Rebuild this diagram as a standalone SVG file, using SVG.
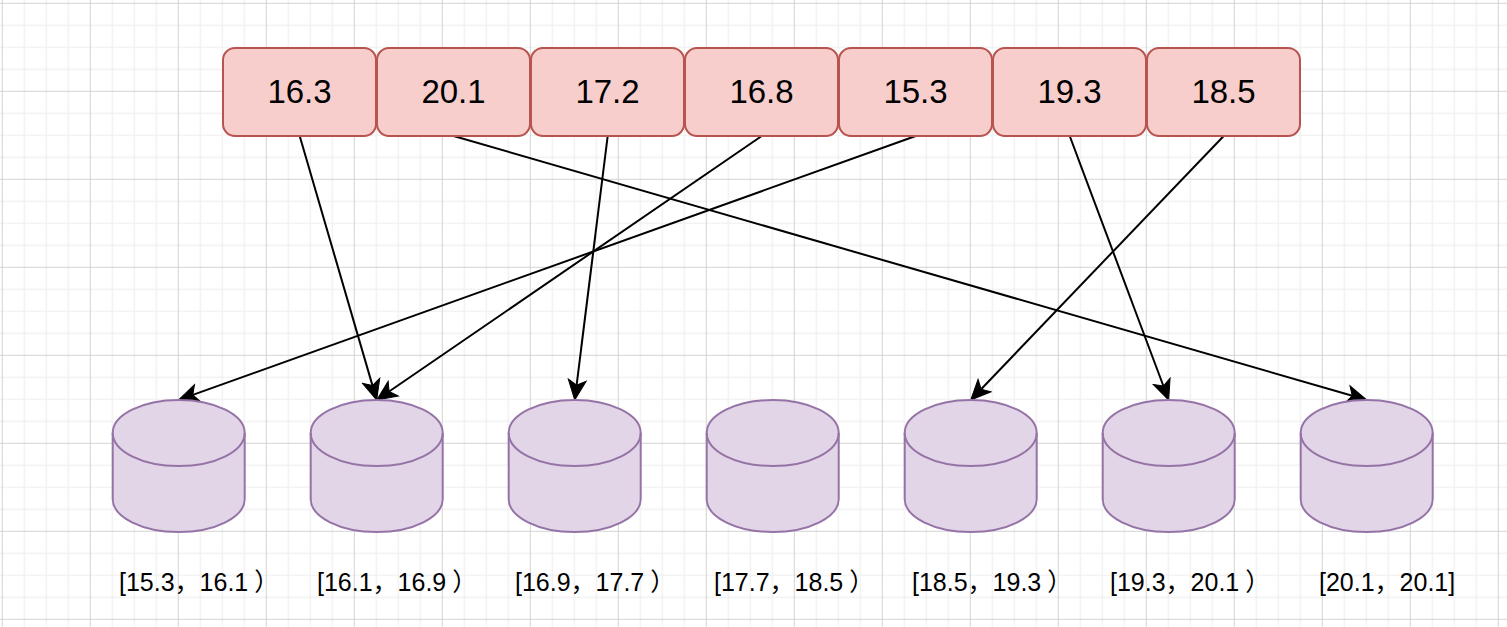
<svg xmlns="http://www.w3.org/2000/svg" width="1507" height="627" viewBox="0 0 1507 627">
<defs>
<pattern id="grid" patternUnits="userSpaceOnUse" x="1.8" y="2.8" width="88" height="88">
<path d="M22.5 0V88M44.5 0V88M66.5 0V88M0 22.5H88M0 44.5H88M0 66.5H88" stroke="#f1f1f1" stroke-width="1.5" fill="none"/>
<path d="M0.5 0V88M0 0.5H88" stroke="#d3d3d3" stroke-width="1" fill="none"/>
</pattern>
<marker id="arrow" markerUnits="userSpaceOnUse" viewBox="-6 -11 23 22" refX="0" refY="0" markerWidth="23" markerHeight="22" orient="auto">
<path d="M15,0 L-5,-9 L0,0 L-5,9 Z" fill="#000" stroke="#000" stroke-width="1"/>
</marker>
</defs>
<style>
.box{fill:#f8cecc;stroke:#b85450;stroke-width:2}
.boxtext{font-family:"Liberation Sans",Arial,sans-serif;font-size:33px;fill:#000;text-anchor:middle}
.cyl{fill:#e1d5e7;stroke:#9673a6;stroke-width:2}
.cylline{fill:none;stroke:#9673a6;stroke-width:2}
.label{font-family:"Liberation Sans","Noto Sans CJK SC",sans-serif;font-size:25px;fill:#000}
.edge{fill:none;stroke:#000;stroke-width:2;marker-end:url(#arrow)}
</style>
<rect width="1507" height="627" fill="#ffffff"/>
<rect width="1507" height="627" fill="url(#grid)"/>

<g id="connectors">
<line class="edge" x1="299.7" y1="136" x2="372.5" y2="385.6"/>
<line class="edge" x1="453.7" y1="136" x2="1352.3" y2="395.8"/>
<line class="edge" x1="607.7" y1="136" x2="576.6" y2="385.1"/>
<line class="edge" x1="761.7" y1="136" x2="389.1" y2="391.5"/>
<line class="edge" x1="915.7" y1="136" x2="192.8" y2="394.9"/>
<line class="edge" x1="1069.7" y1="136" x2="1163.4" y2="386.0"/>
<line class="edge" x1="1223.7" y1="136" x2="981.1" y2="389.2"/>
</g>

<g id="box1"><rect class="box" x="223" y="48" width="153" height="88" rx="12"/><text class="boxtext" x="299.5" y="103">16.3</text></g>
<g id="box2"><rect class="box" x="377" y="48" width="153" height="88" rx="12"/><text class="boxtext" x="453.5" y="103">20.1</text></g>
<g id="box3"><rect class="box" x="531" y="48" width="153" height="88" rx="12"/><text class="boxtext" x="607.5" y="103">17.2</text></g>
<g id="box4"><rect class="box" x="685" y="48" width="153" height="88" rx="12"/><text class="boxtext" x="761.5" y="103">16.8</text></g>
<g id="box5"><rect class="box" x="839" y="48" width="153" height="88" rx="12"/><text class="boxtext" x="915.5" y="103">15.3</text></g>
<g id="box6"><rect class="box" x="993" y="48" width="153" height="88" rx="12"/><text class="boxtext" x="1069.5" y="103">19.3</text></g>
<g id="box7"><rect class="box" x="1147" y="48" width="153" height="88" rx="12"/><text class="boxtext" x="1223.5" y="103">18.5</text></g>

<g id="bucket1">
<path class="cyl" d="M112.7,433 A66,33 0 0 1 244.7,433 V499 A66,33 0 0 1 112.7,499 Z"/>
<path class="cylline" d="M112.7,433 A66,33 0 0 0 244.7,433"/>
<text class="label" x="119" y="591">[15.3，16.1<tspan dx="6">）</tspan></text>
</g>
<g id="bucket2">
<path class="cyl" d="M310.7,433 A66,33 0 0 1 442.7,433 V499 A66,33 0 0 1 310.7,499 Z"/>
<path class="cylline" d="M310.7,433 A66,33 0 0 0 442.7,433"/>
<text class="label" x="317" y="591">[16.1，16.9<tspan dx="6">）</tspan></text>
</g>
<g id="bucket3">
<path class="cyl" d="M508.7,433 A66,33 0 0 1 640.7,433 V499 A66,33 0 0 1 508.7,499 Z"/>
<path class="cylline" d="M508.7,433 A66,33 0 0 0 640.7,433"/>
<text class="label" x="515" y="591">[16.9，17.7<tspan dx="6">）</tspan></text>
</g>
<g id="bucket4">
<path class="cyl" d="M706.7,433 A66,33 0 0 1 838.7,433 V499 A66,33 0 0 1 706.7,499 Z"/>
<path class="cylline" d="M706.7,433 A66,33 0 0 0 838.7,433"/>
<text class="label" x="714" y="591">[17.7，18.5<tspan dx="6">）</tspan></text>
</g>
<g id="bucket5">
<path class="cyl" d="M904.7,433 A66,33 0 0 1 1036.7,433 V499 A66,33 0 0 1 904.7,499 Z"/>
<path class="cylline" d="M904.7,433 A66,33 0 0 0 1036.7,433"/>
<text class="label" x="912" y="591">[18.5，19.3<tspan dx="6">）</tspan></text>
</g>
<g id="bucket6">
<path class="cyl" d="M1102.7,433 A66,33 0 0 1 1234.7,433 V499 A66,33 0 0 1 1102.7,499 Z"/>
<path class="cylline" d="M1102.7,433 A66,33 0 0 0 1234.7,433"/>
<text class="label" x="1110" y="591">[19.3，20.1<tspan dx="6">）</tspan></text>
</g>
<g id="bucket7">
<path class="cyl" d="M1300.7,433 A66,33 0 0 1 1432.7,433 V499 A66,33 0 0 1 1300.7,499 Z"/>
<path class="cylline" d="M1300.7,433 A66,33 0 0 0 1432.7,433"/>
<text class="label" x="1319" y="591">[20.1，20.1]</text>
</g>
</svg>
